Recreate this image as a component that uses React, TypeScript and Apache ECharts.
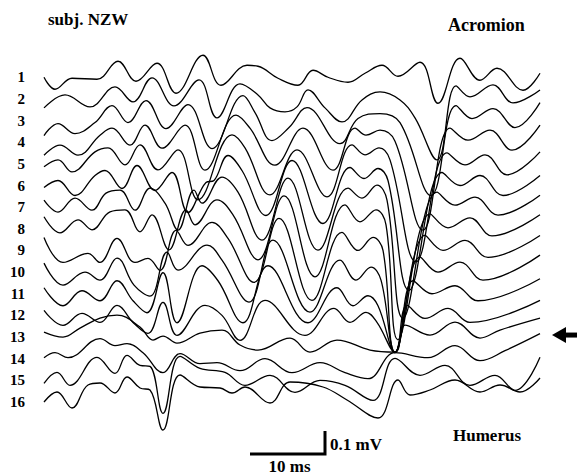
import React, { useEffect, useRef } from "react";
import * as echarts from "echarts";

// x: samples (7.5 samples per ms), y: ADC units (230 units per mV), deviation from each trace's baseline
const SAMPLES_PER_MS = 7.5;
const UNITS_PER_MV = 230;
const SPACING = 21.65;
const TRACE_LABELS = ["1", "2", "3", "4", "5", "6", "7", "8", "9", "10", "11", "12", "13", "14", "15", "16"];
const SCALE_MS = 10;
const SCALE_MV = 0.1;
const MARKED_TRACE = "13";

const T1 = [[0,0],[11,-12],[28,-1],[53,-2],[74,16],[92,-4],[113,14],[132,-16],[159,22],[177,-8],[203,12],[214,11],[234,-1],[254,-8],[269,7],[284,0],[304,-5],[321,4],[338,12],[354,1],[376,15],[394,-26],[416,19],[436,-3],[453,9],[479,-13],[496,4]];
const T2 = [[0,-9],[21,4],[46,-8],[71,12],[89,-3],[108,21],[130,-7],[155,19],[173,-19],[196,15],[214,4],[226,-9],[241,-13],[253,-8],[264,9],[281,-9],[298,-23],[318,-1],[336,7],[356,-1],[371,-19],[393,-61],[412,13],[426,2],[449,14],[469,-4],[496,9]];
const T3 = [[0,-15],[14,-3],[31,-13],[51,-2],[68,15],[84,-2],[102,20],[122,-8],[144,16],[168,-28],[199,25],[211,8],[228,-20],[245,-7],[263,13],[296,-23],[314,2],[336,7],[356,-2],[387,-75],[412,15],[428,2],[449,12],[471,-7],[496,18]];
const T4 = [[0,-13],[16,-3],[34,-13],[56,7],[68,14],[86,-3],[101,17],[118,-6],[141,17],[161,-28],[192,27],[206,14],[231,-23],[259,14],[289,-28],[311,14],[322,7],[336,12],[351,1],[379,-88],[406,14],[424,2],[446,12],[468,-8],[496,17]];
const T5 = [[0,-3],[14,4],[28,-8],[51,12],[64,16],[81,-1],[96,19],[114,-6],[134,14],[154,-36],[188,29],[201,16],[226,-31],[253,14],[283,-33],[308,19],[321,9],[335,16],[346,4],[372,-98],[403,11],[421,-1],[441,9],[463,-11],[496,12]];
const T6 = [[0,-2],[14,5],[31,-10],[51,10],[61,15],[78,-3],[93,20],[111,-5],[128,13],[144,-27],[162,3],[170,5],[184,30],[198,15],[222,-30],[248,25],[279,-38],[306,18],[320,7],[334,17],[344,5],[365,-105],[398,13],[416,0],[436,10],[459,-10],[496,10]];
const T7 = [[0,7],[14,-5],[31,9],[48,-3],[62,14],[76,17],[91,-3],[106,19],[121,4],[134,-23],[150,17],[158,4],[178,30],[194,15],[218,-33],[244,29],[274,-43],[304,19],[318,9],[333,22],[343,7],[359,-111],[393,15],[411,2],[431,10],[454,-8],[496,12]];
const T8 = [[0,12],[16,-4],[34,9],[48,-1],[66,17],[81,19],[96,-3],[108,14],[125,-21],[142,19],[151,4],[173,29],[189,14],[214,-31],[240,33],[271,-48],[301,24],[316,7],[332,19],[342,4],[354,-111],[386,15],[404,1],[426,11],[448,-7],[496,14]];
const T9 = [[0,13],[19,-12],[44,-3],[56,-12],[73,12],[91,-12],[104,-8],[116,-20],[132,20],[144,5],[168,28],[184,12],[210,-32],[235,32],[268,-50],[298,18],[314,0],[329,13],[339,0],[351,-102],[381,15],[399,0],[421,10],[444,-7],[496,15]];
const T10 = [[0,9],[19,-13],[41,0],[56,-8],[73,14],[90,-13],[106,-24],[123,20],[134,2],[163,27],[178,12],[205,-30],[229,32],[266,-40],[296,12],[312,-8],[327,5],[337,-8],[351,-80],[376,15],[394,0],[416,10],[439,-8],[496,17]];
const T11 = [[0,6],[19,-12],[38,3],[56,-7],[73,13],[89,-7],[103,-19],[119,21],[133,-29],[158,28],[174,13],[199,-29],[224,28],[264,-29],[293,6],[309,-12],[324,-2],[334,-12],[351,-59],[369,13],[388,0],[411,8],[434,-7],[496,15]];
const T12 = [[0,5],[19,-10],[38,2],[56,-7],[73,10],[89,-7],[104,-18],[119,13],[133,-20],[161,10],[178,0],[196,-25],[221,15],[261,-20],[290,7],[306,-7],[322,3],[333,-7],[351,-37],[363,10],[381,-3],[404,7],[426,-7],[496,15]];
const T13 = [[0,5],[19,0],[36,9],[56,19],[73,22],[96,10],[109,-3],[119,1],[133,-6],[156,4],[178,7],[196,-8],[214,-13],[246,-1],[266,-15],[293,-3],[326,-13],[351,-15],[361,12],[386,2],[411,15],[436,-1],[456,7],[496,19]];
const T14 = [[0,1],[11,6],[24,1],[56,20],[71,13],[83,15],[99,6],[119,-14],[136,5],[156,-5],[173,-4],[196,-12],[221,0],[248,-14],[276,-4],[301,-14],[324,-20],[351,6],[384,1],[411,13],[436,-2],[461,8],[496,25]];
const T15 = [[0,-3],[13,8],[26,-5],[53,23],[71,7],[83,25],[96,15],[106,14],[119,-33],[136,24],[156,12],[181,8],[201,-5],[226,5],[251,-12],[276,0],[301,-5],[329,-20],[351,22],[376,5],[401,15],[426,-5],[451,5],[471,-10],[496,23]];
const T16 = [[0,0],[13,10],[28,-6],[44,17],[56,19],[71,9],[83,25],[96,14],[106,12],[119,-28],[136,27],[156,15],[176,14],[188,9],[201,15],[226,-1],[246,20],[279,15],[303,2],[334,-16],[354,22],[366,7],[386,12],[411,22],[436,10],[456,17],[476,10],[496,24]];

const TRACES = [T1, T2, T3, T4, T5, T6, T7, T8, T9, T10, T11, T12, T13, T14, T15, T16];

const FONT = '"Liberation Serif", "Times New Roman", serif';

export default function App() {
  const ref = useRef<HTMLDivElement>(null);

  useEffect(() => {
    const chart = echarts.init(ref.current!, null, { renderer: "svg" });
    const n = TRACES.length;
    const offsetOf = (i: number) => (n - 1 - i) * SPACING;

    const traceSeries = TRACES.map((tr, i) => ({
      type: "line",
      name: "Channel " + TRACE_LABELS[i],
      data: tr.map(([x, v]) => [x, offsetOf(i) + v]),
      smooth: 0.4,
      symbol: "none",
      showSymbol: false,
      clip: false,
      silent: true,
      lineStyle: { color: "#000", width: 1.3 },
    }));

    const barLenX = SCALE_MS * SAMPLES_PER_MS;
    const barLenY = SCALE_MV * UNITS_PER_MV;
    const barX0 = 206;
    const barY0 = -52;
    const scaleSeries = {
      type: "line",
      name: "scale",
      data: [
        [barX0, barY0],
        [barX0 + barLenX, barY0],
        [barX0 + barLenX, barY0 + barLenY],
      ],
      symbol: "none",
      clip: false,
      silent: true,
      lineStyle: { color: "#000", width: 3, cap: "butt", join: "miter" },
    };

    chart.setOption({
      animation: false,
      backgroundColor: "#fff",
      grid: {
        left: 44,
        top: 33.95,
        width: 496,
        height: 411.35,
        outerBoundsMode: "none",
      },
      xAxis: { type: "value", min: 0, max: 496, show: false },
      yAxis: {
        type: "value",
        min: -2 * SPACING,
        max: 17 * SPACING,
        interval: SPACING,
        axisLine: { show: false },
        axisTick: { show: false },
        splitLine: { show: false },
        axisLabel: {
          show: true,
          margin: 19,
          color: "#000",
          fontFamily: FONT,
          fontWeight: "bold",
          fontSize: 15,
          formatter: (v: number) => {
            const idx = Math.round(v / SPACING);
            const t = n - 1 - idx;
            return t >= 0 && t < n ? TRACE_LABELS[t] : "";
          },
        },
      },
      series: [...traceSeries, scaleSeries],
    });

    const markedIdx = TRACE_LABELS.indexOf(MARKED_TRACE);
    const p = chart.convertToPixel({ gridIndex: 0 }, [0, offsetOf(markedIdx)]) as number[];
    const ay = p[1] - 2;
    const barEnd = chart.convertToPixel({ gridIndex: 0 }, [barX0 + barLenX, barY0]) as number[];
    const barStart = chart.convertToPixel({ gridIndex: 0 }, [barX0, barY0]) as number[];

    const txt = (text: string, x: number, y: number, size: number, align = "left") => ({
      type: "text",
      silent: true,
      style: {
        text,
        x,
        y,
        fill: "#000",
        font: `bold ${size}px ${FONT}`,
        textAlign: align,
        textVerticalAlign: "middle",
      },
    });

    chart.setOption({
      graphic: [
        txt("subj. NZW", 48, 19.3, 17),
        txt("Acromion", 448, 25.3, 18),
        txt("Humerus", 453, 435.3, 17),
        txt("0.1 mV", barEnd[0] + 5, 444.3, 17),
        txt("10 ms", (barStart[0] + barEnd[0]) / 2 + 2, 466.3, 17, "center"),
        {
          type: "polygon",
          silent: true,
          shape: { points: [[552, ay], [566, ay - 8], [566, ay + 8]] },
          style: { fill: "#000" },
        },
        {
          type: "rect",
          silent: true,
          shape: { x: 565, y: ay - 2.5, width: 12, height: 5 },
          style: { fill: "#000" },
        },
      ],
    });

    return () => chart.dispose();
  }, []);

  return (
    <div
      ref={ref}
      style={{ position: "fixed", left: 0, top: 0, width: 577, height: 476, background: "#fff" }}
    />
  );
}
